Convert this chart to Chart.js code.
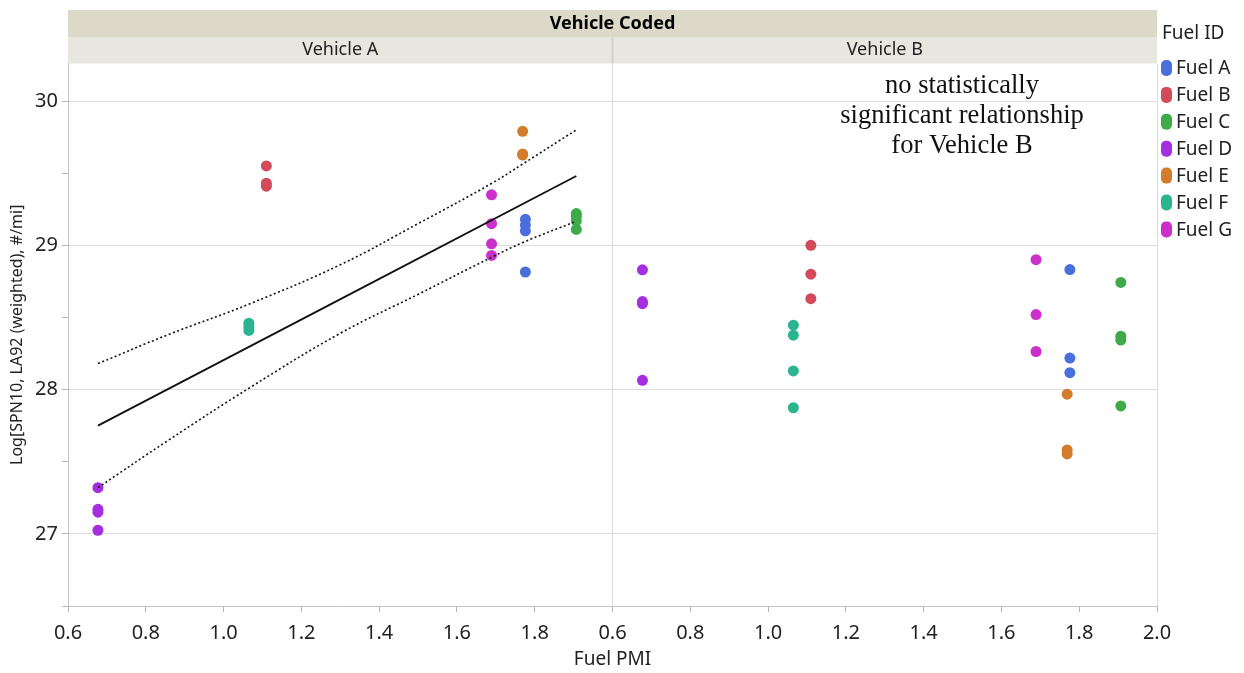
<!DOCTYPE html>
<html>
<head>
<meta charset="utf-8">
<script src="https://cdn.jsdelivr.net/npm/chart.js@4.4.0/dist/chart.umd.min.js"></script>
<style>
  html, body { margin: 0; padding: 0; background: #fff; }
</style>
</head>
<body>
<canvas id="chartPmi" width="1244" height="673"></canvas>
<script>
// fuels and the PMI of each fuel (x position)
const fuels = ['Fuel A', 'Fuel B', 'Fuel C', 'Fuel D', 'Fuel E', 'Fuel F', 'Fuel G']
const fuelColors = ['#4a6fdc', '#d34b5a', '#3faa48', '#a52ee0', '#d27c2c', '#2bb58f', '#cb30cb']
const fuelPmi = [1.776, 1.110, 1.907, 0.677, 1.769, 1.065, 1.689]

// Log[SPN10] per fuel, one list per vehicle
const vehicleA = [
  [29.18, 29.14, 29.10, 28.815],
  [29.55, 29.43, 29.41],
  [29.22, 29.20, 29.17, 29.11],
  [27.32, 27.17, 27.15, 27.025],
  [29.79, 29.632, 29.625],
  [28.46, 28.435, 28.41],
  [29.35, 29.15, 29.01, 28.93]
]
const vehicleB = [
  [28.832, 28.218, 28.117],
  [29.00, 28.80, 28.63],
  [28.743, 28.37, 28.343, 27.887],
  [28.83, 28.61, 28.595, 28.064],
  [27.968, 27.582, 27.554],
  [28.446, 28.377, 28.129, 27.874],
  [28.90, 28.52, 28.264]
]

// fit line and confidence band, Vehicle A only
const fitX = [0.677, 1.907]
const fitY = [27.75, 29.48]
const bandX = [0.677, 0.857, 1.068, 1.300, 1.500, 1.690, 1.770, 1.907]
const bandUpper = [28.18, 28.38, 28.595, 28.865, 29.15, 29.43, 29.565, 29.80]
const bandLower = [27.32, 27.647, 28.014, 28.39, 28.66, 28.918, 29.02, 29.167]

const xTicks = [0.6, 0.8, 1.0, 1.2, 1.4, 1.6, 1.8, 2.0]
const yTicks = [27, 28, 29, 30]
const panels = ['Vehicle A', 'Vehicle B']
const note = ['no statistically', 'significant relationship', 'for Vehicle B']

const uiFont = '"Noto Sans", "Open Sans", sans-serif'
Chart.defaults.font.family = uiFont
Chart.defaults.color = '#222'

const pts = (i, ys) => ys.map(y => ({ x: fuelPmi[i], y }))
const zip = (xs, ys) => xs.map((x, i) => ({ x, y: ys[i] }))

const pointSets = (rows, axis) => rows.map((ys, i) => ({
  type: 'scatter',
  label: fuels[i],
  data: pts(i, ys),
  xAxisID: axis,
  backgroundColor: fuelColors[i],
  borderColor: fuelColors[i],
  borderWidth: 0,
  pointRadius: 5.5,
  pointHoverRadius: 5.5,
  order: 1
}))

const lineSet = (data, dash) => ({
  type: 'line',
  data,
  xAxisID: 'xA',
  borderColor: '#111',
  borderWidth: dash ? 1.6 : 1.8,
  borderDash: dash ? [2, 2.5] : [],
  pointRadius: 0,
  tension: 0.4,
  fill: false,
  order: 0
})

const xScale = (hideLast) => ({
  type: 'linear',
  position: 'bottom',
  stack: 'pmi',
  stackWeight: 1,
  min: 0.6,
  max: 2.0,
  afterFit: s => { s.height = 67 },
  afterBuildTicks: s => { s.ticks = xTicks.map(v => ({ value: v })) },
  ticks: {
    font: { size: 20 },
    color: '#222',
    padding: 9,
    maxRotation: 0,
    autoSkip: false,
    callback: v => (hideLast && v === 2.0) ? '' : v.toFixed(1)
  },
  grid: {
    color: c => (!hideLast && c.tick && (c.tick.value === 0.6 || c.tick.value === 2.0)) ? '#dcdcdc' : 'rgba(0,0,0,0)',
    tickColor: '#b5b5b5',
    tickLength: 6
  },
  border: { color: '#c4c4c4' }
})

// header strips, legend, notes
const decor = {
  id: 'decor',
  beforeDraw (chart) {
    const { ctx, chartArea: a, scales } = chart
    const xa = scales.xA
    const xb = scales.xB
    ctx.save()
    ctx.fillStyle = '#dcd9c8'
    ctx.fillRect(a.left, 10, a.right - a.left, 27)
    ctx.fillStyle = '#e8e7df'
    ctx.fillRect(a.left, 37, a.right - a.left, a.top - 37)
    ctx.fillStyle = '#d4d2c6'
    ctx.fillRect(xb.left - 1, 37, 2, a.top - 37)
    ctx.fillStyle = '#000'
    ctx.textAlign = 'center'
    ctx.textBaseline = 'middle'
    ctx.font = 'bold 18px ' + uiFont
    ctx.fillText('Vehicle Coded', (a.left + a.right) / 2, 23.5)
    ctx.font = '18px ' + uiFont
    ctx.fillStyle = '#222'
    ctx.fillText(panels[0], (xa.left + xa.right) / 2, 50)
    ctx.fillText(panels[1], (xb.left + xb.right) / 2, 50)
    ctx.restore()
  },
  afterDraw (chart) {
    const { ctx, chartArea: a } = chart
    ctx.save()
    ctx.textBaseline = 'middle'
    ctx.textAlign = 'center'
    ctx.fillStyle = '#222'
    ctx.font = '19px ' + uiFont
    ctx.fillText('Fuel PMI', (a.left + a.right) / 2, 660)

    ctx.textAlign = 'left'
    ctx.font = '19px ' + uiFont
    ctx.fillText('Fuel ID', 1162, 34)
    fuels.forEach((f, i) => {
      const y = 68 + i * 26.9
      ctx.fillStyle = fuelColors[i]
      ctx.beginPath()
      ctx.roundRect(1161, y - 8, 11, 16, 5)
      ctx.fill()
      ctx.fillStyle = '#222'
      ctx.fillText(f, 1176, y + 1)
    })

    ctx.textAlign = 'center'
    ctx.fillStyle = '#111'
    ctx.font = '26.5px "Liberation Serif", "Times New Roman", serif'
    note.forEach((t, i) => ctx.fillText(t, 962, 86 + i * 30))
    ctx.restore()
  }
}

new Chart(document.getElementById('chartPmi'), {
  type: 'scatter',
  data: {
    datasets: [
      lineSet(zip(fitX, fitY), false),
      lineSet(zip(bandX, bandUpper), true),
      lineSet(zip(bandX, bandLower), true),
      ...pointSets(vehicleA, 'xA'),
      ...pointSets(vehicleB, 'xB')
    ]
  },
  options: {
    responsive: false,
    animation: false,
    devicePixelRatio: 1,
    layout: { padding: { top: 63.5, right: 87, left: 0, bottom: 0 } },
    plugins: {
      legend: { display: false },
      tooltip: { enabled: false }
    },
    scales: {
      xA: xScale(true),
      xB: xScale(false),
      y: {
        type: 'linear',
        position: 'left',
        min: 26.5,
        max: 30.26,
        afterFit: s => { s.width = 68 },
        ticks: {
          stepSize: 0.5,
          includeBounds: false,
          font: { size: 20 },
          color: '#222',
          padding: 4,
          callback: v => yTicks.includes(v) ? String(v) : ''
        },
        grid: {
          color: c => (c.tick && yTicks.includes(c.tick.value)) ? '#dcdcdc' : 'rgba(0,0,0,0)',
          tickColor: '#b5b5b5',
          tickLength: 6
        },
        border: { color: '#c4c4c4' },
        title: {
          display: true,
          text: 'Log[SPN10, LA92 (weighted), #/mi]',
          font: { size: 16 },
          color: '#222',
          padding: { top: 8, bottom: 0 }
        }
      }
    }
  },
  plugins: [decor]
})
</script>
</body>
</html>
